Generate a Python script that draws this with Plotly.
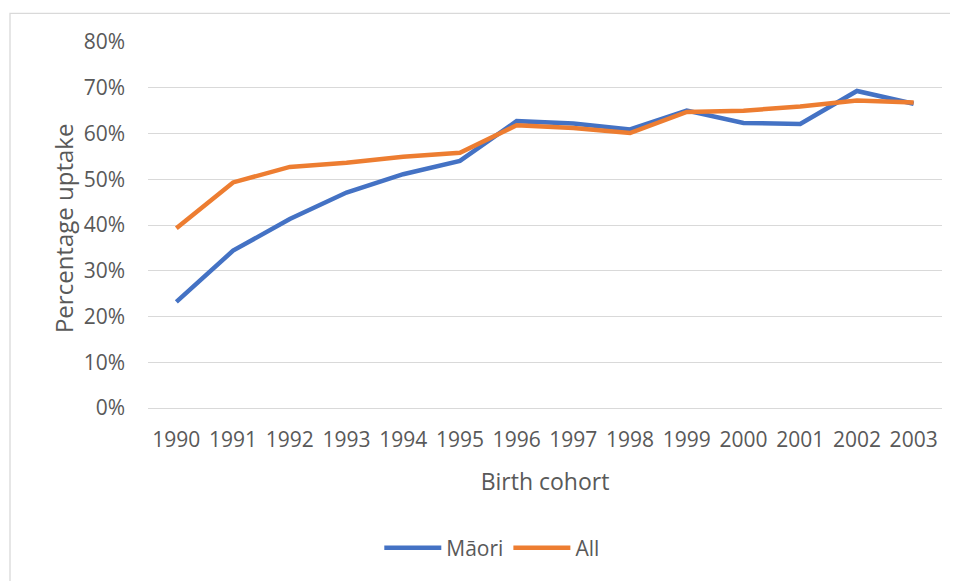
import plotly.graph_objects as go

years = [str(y) for y in range(1990, 2004)]
maori = [0.232, 0.344, 0.413, 0.471, 0.511, 0.540, 0.627, 0.622, 0.609, 0.650, 0.623, 0.621, 0.693, 0.665]
all_ = [0.393, 0.493, 0.527, 0.536, 0.549, 0.558, 0.618, 0.612, 0.601, 0.647, 0.650, 0.659, 0.672, 0.668]
y_ticks = [0, 0.1, 0.2, 0.3, 0.4, 0.5, 0.6, 0.7, 0.8]

FONT = "Open Sans"
GREY = "#595959"

fig = go.Figure()
fig.add_trace(go.Scatter(x=years, y=maori, mode="lines", name="Māori",
                         line=dict(color="#4472C4", width=4.5)))
fig.add_trace(go.Scatter(x=years, y=all_, mode="lines", name="All",
                         line=dict(color="#ED7D31", width=4.5)))

fig.update_layout(
    width=950, height=573,
    margin=dict(l=140, r=16, t=34, b=169),
    paper_bgcolor="white", plot_bgcolor="white",
    font=dict(family=FONT, color=GREY, size=21),
    showlegend=True,
    legend=dict(orientation="h", x=0.433, xanchor="center", y=-0.383, yanchor="middle",
                font=dict(size=21, color=GREY), traceorder="normal",
                itemwidth=57, tracegroupgap=0),
    xaxis=dict(type="category", range=[-0.5, 13.5], showgrid=False,
               showline=False, ticks="", ticklabelstandoff=17,
               tickfont=dict(size=21, color=GREY),
               title=dict(text="Birth cohort", font=dict(size=23, color=GREY), standoff=21)),
    yaxis=dict(range=[0, 0.8], tickvals=y_ticks, tickformat=".0%",
               showgrid=True, gridcolor="#d9d9d9", gridwidth=1.3,
               zeroline=True, zerolinecolor="#d9d9d9", zerolinewidth=1.3,
               showline=False, ticks="", ticklabelstandoff=22,
               tickfont=dict(size=21, color=GREY)),
    annotations=[dict(text="Percentage uptake", textangle=-90, showarrow=False,
                      xref="paper", yref="paper", x=-0.107, y=0.489,
                      xanchor="center", yanchor="middle",
                      font=dict(size=24, color=GREY, family=FONT))],
    shapes=[dict(type="rect", xref="paper", yref="paper",
                 x0=-0.1738, x1=1.2, y0=-0.8, y1=1.078,
                 line=dict(color="#d9d9d9", width=1.3), fillcolor="rgba(0,0,0,0)", layer="below")],
)

fig.write_html("out.html")
